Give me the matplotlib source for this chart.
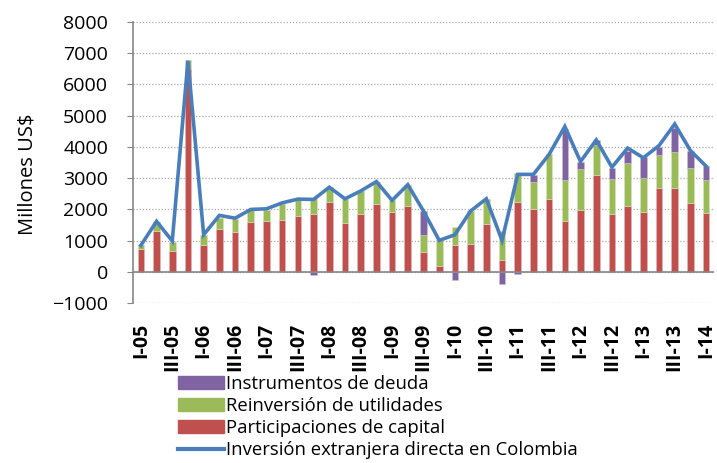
import matplotlib
matplotlib.use("Agg")
import matplotlib.pyplot as plt
import numpy as np
from matplotlib.patches import Patch
from matplotlib.lines import Line2D

plt.rcParams['font.family'] = ['Open Sans', 'DejaVu Sans']

quarters = ['I', 'II', 'III', 'IV']
years = ['05', '06', '07', '08', '09', '10', '11', '12', '13', '14']
periods = [f"{q}-{y}" for y in years for q in quarters][:37]

capital = [730, 1310, 660, 6490, 870, 1370, 1280, 1590, 1630, 1670, 1790, 1860,
           2230, 1560, 1850, 2170, 1930, 2110, 640, 190, 860, 900, 1530, 380,
           2230, 2000, 2340, 1620, 1970, 3110, 1850, 2110, 1910, 2700, 2680, 2200, 1890]
reinversion = [140, 280, 300, 290, 320, 360, 400, 380, 360, 490, 500, 500,
               480, 780, 740, 700, 360, 680, 530, 820, 580, 1050, 790, 920,
               930, 890, 1420, 1310, 1330, 960, 1120, 1370, 1100, 1030, 1170, 1120, 1060]
deuda = [0, 0, 0, 0, 0, 0, 0, 0, 0, 0, 0, -100,
         0, 0, 0, 0, 0, 0, 780, 0, -240, 0, 0, -380,
         -50, 200, 0, 1640, 230, 150, 360, 380, 660, 280, 760, 560, 430]
ied_total = [850, 1620, 990, 6750, 1190, 1810, 1720, 2000, 2020, 2210, 2330, 2320,
             2710, 2340, 2590, 2890, 2290, 2790, 1950, 1010, 1190, 1950, 2340, 1010,
             3120, 3120, 3760, 4650, 3530, 4220, 3350, 3960, 3650, 4040, 4730, 3880, 3380]

c_red = '#C0504D'
c_green = '#9BBB59'
c_purple = '#8064A2'
c_blue = '#4A7EBB'

fig = plt.figure(figsize=(7.17, 4.63), dpi=100)
ax = fig.add_axes([133/717, 1-303.3/463, (714-133)/717, (303.3-21.7)/463])

x = np.arange(len(periods))
cap = np.array(capital, dtype=float)
rei = np.array(reinversion, dtype=float)
deu = np.array(deuda, dtype=float)
w = 0.42
ax.bar(x, cap, w, color=c_red, edgecolor='#E6B9B8', linewidth=0.4, zorder=2)
ax.bar(x, rei, w, bottom=cap, color=c_green, edgecolor='#D7E4BD', linewidth=0.4, zorder=2)
deu_bottom = np.where(deu >= 0, cap + rei, 0)
ax.bar(x, deu, w, bottom=deu_bottom, color=c_purple, edgecolor='#CCC1DA', linewidth=0.4, zorder=2)
ax.plot(x, ied_total, color=c_blue, linewidth=2.6, zorder=3, solid_joinstyle='miter')

ax.set_xlim(-0.5, len(periods) - 0.5)
ax.set_ylim(-1000, 8000)
ax.set_yticks(np.arange(-1000, 8001, 1000))
ax.tick_params(axis='y', labelsize=14, length=4, color='#868686', pad=14)
ax.yaxis.grid(True, linestyle=(0, (1, 1.5)), color='#A6A6A6', linewidth=0.9, zorder=0)
ax.axhline(0, color='#868686', linewidth=1.2, zorder=2.5)

ax.set_xticks(x[::2])
ax.set_xticklabels(periods[::2], rotation=90, fontsize=14, fontweight='bold')
ax.tick_params(axis='x', length=0, pad=14)

for s in ['top', 'right', 'bottom']:
    ax.spines[s].set_visible(False)
ax.spines['left'].set_color('#868686')
ax.spines['left'].set_linewidth(1.2)

ax.set_ylabel('Millones US$', fontsize=14.5)
ax.yaxis.set_label_coords(-0.165, 0.46)

handles = [Patch(color=c_purple), Patch(color=c_green), Patch(color=c_red),
           Line2D([0], [0], color=c_blue, linewidth=3)]
labels = ['Instrumentos de deuda', 'Reinversión de utilidades',
          'Participaciones de capital', 'Inversión extranjera directa en Colombia']
fig.legend(handles, labels, loc='upper left', bbox_to_anchor=(178/717, 1-375/463),
           frameon=False, fontsize=13.3, handlelength=2.5, handleheight=0.65,
           handletextpad=0.1, labelspacing=0.22, borderpad=0, borderaxespad=0)

fig.savefig('out.png', dpi=100)
